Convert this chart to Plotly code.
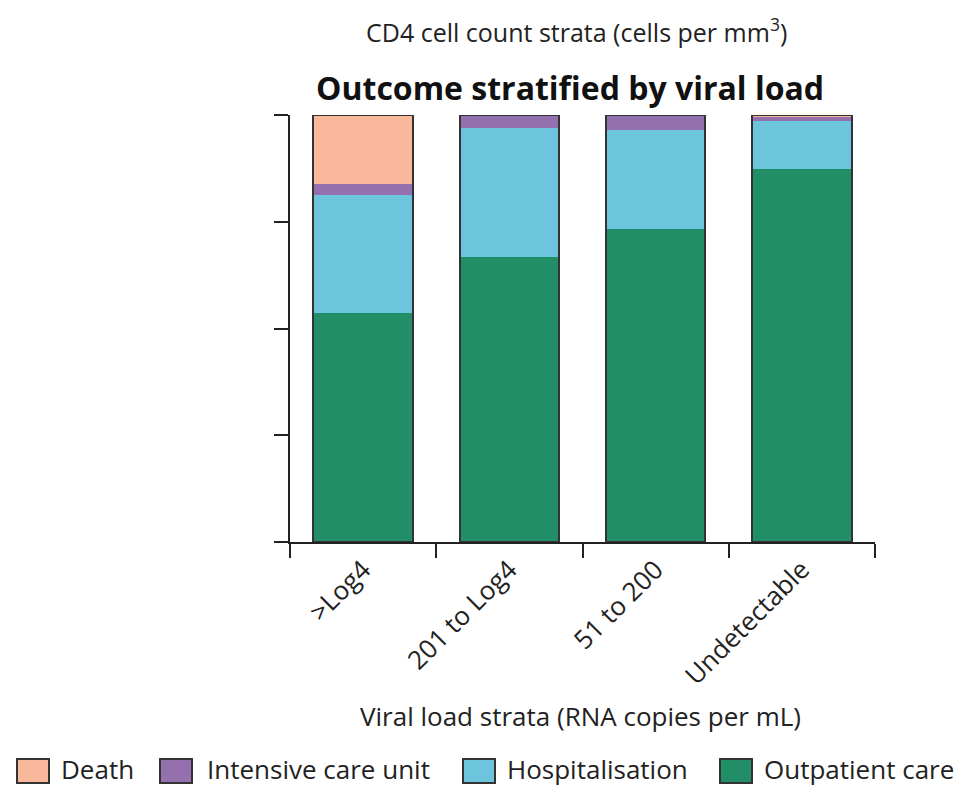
import plotly.graph_objects as go

# Viral load strata (x categories) and outcome shares (% of patients)
categories = [">Log4", "201 to Log4", "51 to 200", "Undetectable"]
outpatient = [53.6, 66.7, 73.3, 87.3]
hospitalisation = [27.7, 30.3, 23.2, 11.2]
icu = [2.5, 3.0, 3.5, 1.2]
death = [16.2, 0.0, 0.0, 0.3]

series = [
    ("Outpatient care", outpatient, "#218E68"),
    ("Hospitalisation", hospitalisation, "#6CC5DD"),
    ("Intensive care unit", icu, "#9570AF"),
    ("Death", death, "#F9B89C"),
]
totals = [sum(v) for v in zip(outpatient, hospitalisation, icu, death)]

FONT = "Open Sans"
INK = "#222222"
W, H = 961, 788
L, R, T, B = 290, 86, 115, 246
PW, PH = W - L - R, H - T - B

fig = go.Figure()
for name, vals, col in series:
    fig.add_trace(go.Bar(
        x=categories, y=vals, name=name, marker=dict(color=col, line=dict(width=0)),
        showlegend=False, hoverinfo="name+y",
    ))

# Outline of each full stack (drawn on an overlaid axis so it is not stacked)
fig.add_trace(go.Bar(
    x=categories, y=totals, yaxis="y2", showlegend=False, hoverinfo="skip",
    marker=dict(color="rgba(0,0,0,0)", line=dict(color="#333333", width=2)),
))

fig.update_layout(
    width=W, height=H,
    margin=dict(l=L, r=R, t=T, b=B),
    barmode="stack", bargap=0.32,
    plot_bgcolor="white", paper_bgcolor="white",
    font=dict(family=FONT, color=INK, size=26),
    xaxis=dict(
        range=[-0.5, 3.5], tickangle=-45, tickson="boundaries",
        ticks="outside", ticklen=14, tickwidth=2, tickcolor=INK,
        showline=True, linecolor=INK, linewidth=2, showgrid=False,
        tickfont=dict(size=26, family=FONT, color=INK),
    ),
    yaxis=dict(
        range=[0, 100], tickvals=[0, 25, 50, 75, 100], showticklabels=False,
        ticks="outside", ticklen=14, tickwidth=2, tickcolor=INK,
        showline=True, linecolor=INK, linewidth=2, showgrid=False, zeroline=False,
    ),
    yaxis2=dict(range=[0, 100], overlaying="y", visible=False),
)


def px_x(p):
    return (p - L) / PW


def px_y(p):
    return (H - B - p) / PH


annotations = [
    dict(text="CD4 cell count strata (cells per mm<sup>3</sup>)", x=px_x(576), y=px_y(30),
         font=dict(size=25)),
    dict(text="<b>Outcome stratified by viral load</b>", x=px_x(570), y=px_y(88),
         font=dict(size=32, color="#111111")),
    dict(text="Viral load strata (RNA copies per mL)", x=px_x(580), y=px_y(716),
         font=dict(size=26)),
]
for a in annotations:
    a.update(xref="paper", yref="paper", showarrow=False, xanchor="center", yanchor="middle")

# Legend row: swatch boxes and labels
legend_items = [("Death", "#F9B89C", 17, 59), ("Intensive care unit", "#9570AF", 160, 205),
                ("Hospitalisation", "#6CC5DD", 463, 505), ("Outpatient care", "#218E68", 720, 762)]
shapes = []
for name, col, bx, tx in legend_items:
    shapes.append(dict(type="rect", xref="paper", yref="paper",
                       x0=px_x(bx), x1=px_x(bx + 32), y0=px_y(783), y1=px_y(759),
                       fillcolor=col, line=dict(color="#333333", width=2)))
    annotations.append(dict(text=name, x=px_x(tx), y=px_y(769), xref="paper", yref="paper",
                            showarrow=False, xanchor="left", yanchor="middle",
                            font=dict(size=26)))

fig.update_layout(annotations=annotations, shapes=shapes)
fig.write_html("out.html")
